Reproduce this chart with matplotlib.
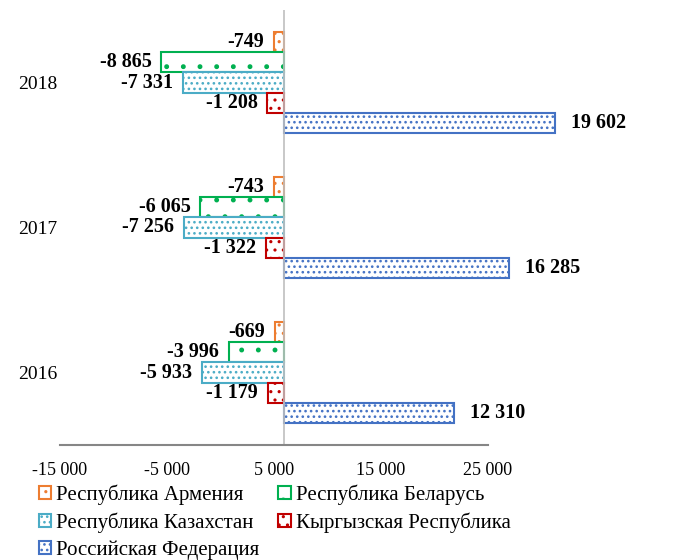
import numpy as np
import matplotlib.pyplot as plt
from matplotlib.patches import Patch

plt.rcParams['font.family'] = ['Liberation Serif', 'DejaVu Serif']
plt.rcParams['hatch.linewidth'] = 1.1

# данные
years = ['2016', '2017', '2018']
countries = ['Республика Армения', 'Республика Беларусь', 'Республика Казахстан',
             'Кыргызская Республика', 'Российская Федерация']
armenia = [-669, -743, -749]
belarus = [-3996, -6065, -8865]
kazakhstan = [-5933, -7256, -7331]
kyrgyz = [-1179, -1322, -1208]
russia = [12310, 16285, 19602]
tick_labels = ['-15 000', '-5 000', '5 000', '15 000', '25 000']

series = [armenia, belarus, kazakhstan, kyrgyz, russia]
colors = ['#ED7D31', '#00B050', '#4BACC6', '#C00000', '#4472C4']
hatches = ['..', '.', '...', '..', '...']


def fmt(v):
    s = f"{abs(v):,}".replace(',', ' ')
    return ('-' if v < 0 else '') + s


fig = plt.figure(figsize=(6.73, 5.6), dpi=100)
ax = fig.add_axes([60 / 673, 115 / 560, 540 / 673, 435 / 560])

# масштаб: 0 в точке 284 px, 13.82 px на 1000
x_left = (60 - 284) / 13.82 * 1000
x_right = (600 - 284) / 13.82 * 1000
axis_end = (488 - 284) / 13.82 * 1000
ax.set_xlim(x_left, x_right)
ax.set_ylim(-0.5, 2.5)

y = np.arange(len(years))
h = 0.138
offsets = [2 * h, h, 0, -h, -2 * h]

for vals, col, hat, off in zip(series, colors, hatches, offsets):
    ax.barh(y + off, vals, height=h, color='white', edgecolor=col,
            hatch=hat, linewidth=1.5)
    for yi, v in zip(y, vals):
        if v < 0:
            ax.text(v - 700, yi + off, fmt(v), ha='right', va='center',
                    fontsize=14.5, fontweight='bold')
        else:
            ax.text(v + 1150, yi + off, fmt(v), ha='left', va='center',
                    fontsize=14.5, fontweight='bold')

for s in ax.spines.values():
    s.set_visible(False)
ax.axvline(0, color='#BFBFBF', lw=1.2)
ax.plot([x_left, axis_end], [-0.5, -0.5], color='#868686', lw=1.5,
        clip_on=False)

ax.set_yticks(y)
ax.set_yticklabels(years, fontsize=14)
ax.tick_params(axis='y', length=0, pad=2)
ax.set_xticks(np.linspace(x_left, axis_end, len(tick_labels)))
ax.set_xticklabels(tick_labels, fontsize=13)
ax.tick_params(axis='x', length=0, pad=12)

handles = [Patch(facecolor='white', edgecolor=c, hatch=hh, lw=1.5)
           for c, hh in zip(colors, hatches)]
order = [0, 2, 4, 1, 3]
fig.legend([handles[i] for i in order], [countries[i] for i in order],
           loc='lower left', bbox_to_anchor=(24 / 673, -0.026), ncol=2,
           frameon=False, fontsize=15, handlelength=0.6, handleheight=0.6,
           handletextpad=0.25, columnspacing=0.9, labelspacing=0.36,
           borderpad=0.2)

fig.savefig('out.png', dpi=100)
